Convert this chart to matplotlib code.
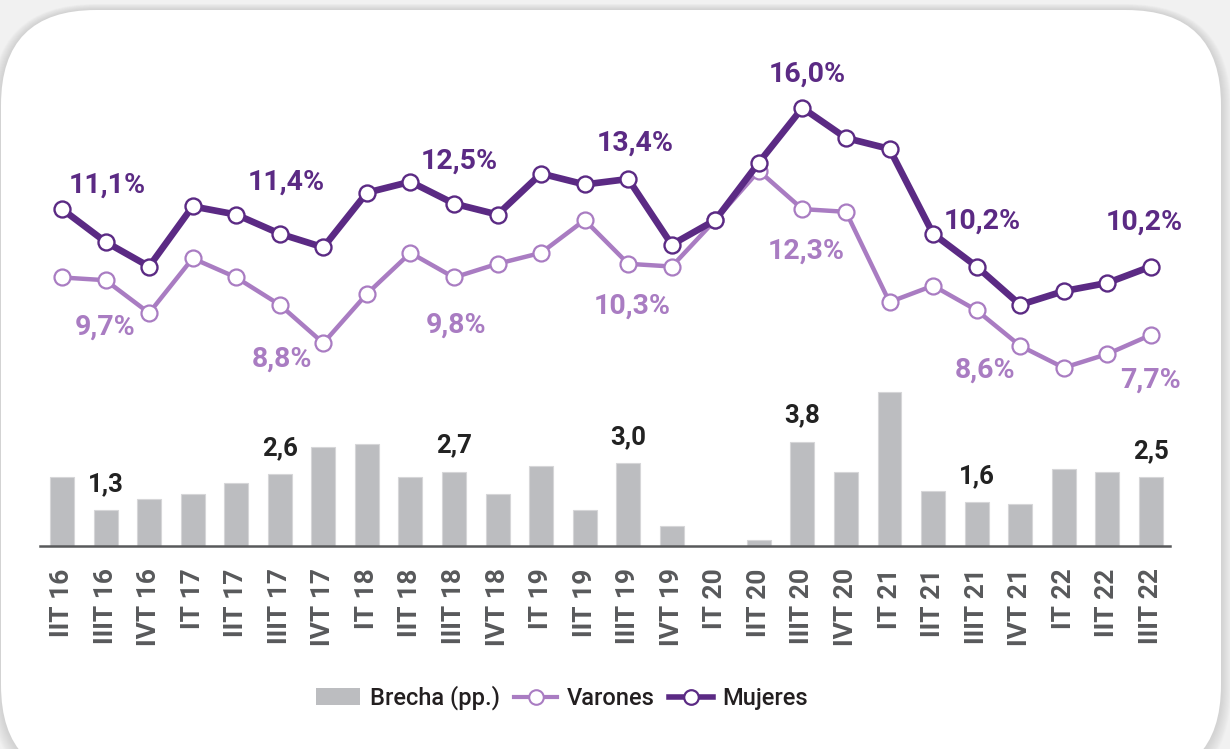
import numpy as np
import matplotlib.pyplot as plt
from matplotlib.patches import FancyBboxPatch, Patch
from matplotlib.lines import Line2D

plt.rcParams['font.family'] = ['Roboto', 'DejaVu Sans']

cats = ["IIT 16", "IIIT 16", "IVT 16", "IT 17", "IIT 17", "IIIT 17", "IVT 17",
        "IT 18", "IIT 18", "IIIT 18", "IVT 18", "IT 19", "IIT 19", "IIIT 19",
        "IVT 19", "IT 20", "IIT 20", "IIIT 20", "IVT 20", "IT 21", "IIT 21",
        "IIIT 21", "IVT 21", "IT 22", "IIT 22", "IIIT 22"]
mujeres = [12.3, 11.1, 10.2, 12.4, 12.1, 11.4, 10.9, 12.9, 13.3, 12.5, 12.1, 13.6, 13.2,
           13.4, 11.0, 11.9, 14.0, 16.0, 14.9, 14.5, 11.4, 10.2, 8.8, 9.3, 9.6, 10.2]
varones = [9.8, 9.7, 8.5, 10.5, 9.8, 8.8, 7.4, 9.2, 10.7, 9.8, 10.3, 10.7, 11.9,
           10.3, 10.2, 11.9, 13.7, 12.3, 12.2, 8.9, 9.5, 8.6, 7.3, 6.5, 7.0, 7.7]
brecha = [2.5, 1.3, 1.7, 1.9, 2.3, 2.6, 3.6, 3.7, 2.5, 2.7, 1.9, 2.9, 1.3,
          3.0, 0.7, 0.0, 0.2, 3.8, 2.7, 5.6, 2.0, 1.6, 1.5, 2.8, 2.7, 2.5]
labeled = [1, 5, 9, 13, 17, 21, 25]

# label offsets in pixels (dx, dy) from the point
off_m = [(2, 49), (6, 44), (5, 35), (7, 28), (5, 26), (6, 38), (-7, 37)]
off_v = [(0, -54), (2, -62), (2, -55), (4, -50), (4, -50), (8, -67), (0, -53)]

c_muj = '#5b2a84'
c_var = '#a97cc2'
c_bar = '#bcbdc0'

fig = plt.figure(figsize=(12.3, 7.49), dpi=100)
fig.patch.set_facecolor('#f1f1f1')

# rounded white panel with soft shadow
bg = fig.add_axes([0, 0, 1, 1], zorder=-1)
bg.set_xlim(0, 1230)
bg.set_ylim(749, 0)
bg.axis('off')
x0, y0, w, h, r = 1, 10, 1220, 770, 95
for k in range(10, 0, -1):
    bg.add_patch(FancyBboxPatch((x0 - k, y0 - k * 0.6), w + 2 * k, h + 2 * k,
                                boxstyle='round,pad=0,rounding_size=%g' % (r + k),
                                fc='#b0b0b0', ec='none', alpha=0.05))
bg.add_patch(FancyBboxPatch((x0, y0), w, h, boxstyle='round,pad=0,rounding_size=%g' % r,
                            fc='white', ec='none'))

ax = fig.add_axes([40 / 1230, (749 - 545.5) / 749, 1130 / 1230, 18 * 27.35 / 749])
ax.set_facecolor('none')
x = np.arange(len(cats))

ax.bar(x, brecha, width=0.55, color=c_bar, edgecolor='#d6d6d8', linewidth=0.8, zorder=2)
ax.plot(x, varones, color=c_var, lw=3.2, marker='o', ms=11.5, mfc='white',
        mec=c_var, mew=1.6, zorder=3, clip_on=False)
ax.plot(x, mujeres, color=c_muj, lw=4.8, marker='o', ms=11.5, mfc='white',
        mec=c_muj, mew=1.7, zorder=4, clip_on=False)

for j, i in enumerate(labeled):
    ax.annotate(f"{mujeres[i]:.1f}%".replace('.', ','), (x[i], mujeres[i]),
                xytext=off_m[j], textcoords='offset pixels', ha='center', va='baseline',
                fontsize=20.5, fontweight='bold', color=c_muj, zorder=5)
    ax.annotate(f"{varones[i]:.1f}%".replace('.', ','), (x[i], varones[i]),
                xytext=off_v[j], textcoords='offset pixels', ha='center', va='baseline',
                fontsize=20.5, fontweight='bold', color=c_var, zorder=5)
    ax.annotate(f"{brecha[i]:.1f}".replace('.', ','), (x[i], brecha[i]),
                xytext=(0, 19), textcoords='offset pixels', ha='center', va='baseline',
                fontsize=18.5, fontweight='bold', color='#222222', zorder=5)

ax.set_xlim(-0.505, 25.44)
ax.set_ylim(0, 18)
for s in ['top', 'left', 'right']:
    ax.spines[s].set_visible(False)
ax.spines['bottom'].set_color('#58595b')
ax.spines['bottom'].set_linewidth(1.8)
ax.set_yticks([])
ax.set_xticks(x)
ax.set_xticklabels(cats, rotation=90, fontsize=19, fontweight='bold', color='#58595b')
ax.tick_params(axis='x', length=0, pad=16.5)

handles = [Patch(facecolor=c_bar, label='Brecha (pp.)'),
           Line2D([], [], color=c_var, lw=3, marker='o', ms=10.5, mfc='white', mec=c_var,
                  mew=1.5, label='Varones'),
           Line2D([], [], color=c_muj, lw=4, marker='o', ms=10.5, mfc='white', mec=c_muj,
                  mew=1.6, label='Mujeres')]
fig.legend(handles=handles, loc='center', bbox_to_anchor=(562 / 1230, 1 - 698 / 749),
           ncol=3, frameon=False, handlelength=1.85, handletextpad=0.4,
           columnspacing=0.6, labelcolor='#231f20',
           prop={'family': ['Roboto', 'DejaVu Sans'], 'size': 17, 'weight': 'medium'})

fig.savefig('out.png', dpi=100, facecolor=fig.get_facecolor())
